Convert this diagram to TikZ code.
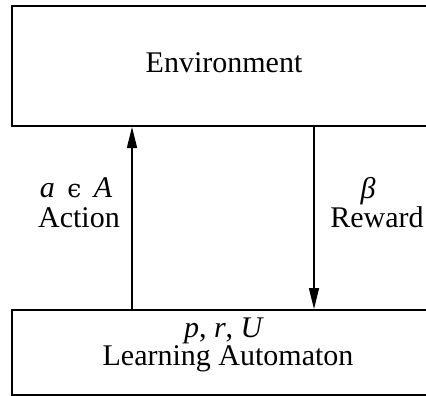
\documentclass[tikz,border=0pt]{standalone}
\usepackage{fontspec}
\setmainfont{Liberation Serif}
\newfontfamily\symfont{DejaVu Serif}
\usepackage{tikz}
\usetikzlibrary{arrows.meta}

\begin{document}
\begin{tikzpicture}[x=1pt,y=-1pt,
    block/.style={draw=black,line width=2pt,rectangle,minimum width=424pt,inner sep=0pt},
    label/.style={anchor=base,inner sep=0pt},
    flow/.style={line width=1.3pt,-{Triangle[length=21pt,width=10pt]}},
    font=\fontsize{30}{32}\selectfont]
      \clip (0,0) rectangle (426,396);
      \node[block,minimum height=120pt] (env) at (224,66) {};
      \node[label] (envname) at (224,73) {Environment};
      \node[block,minimum height=85pt] (la) at (224,352.5) {};
      \node[label] (lapar) at (224,337) {\textit{p}, \textit{r}, \textit{U}};
      \node[label] (laname) at (228,365) {Learning Automaton};
      %% action goes up, reward comes down
      \coordinate (actx) at (132,0);
      \coordinate (rewx) at (314,0);
      \draw[flow] (actx |- la.north) -- (actx |- env.south);
      \draw[flow] (rewx |- env.south) -- (rewx |- la.north);
      \node[label] (actsym) at (76,197) {\textit{a}\, {\symfont\fontsize{25}{25}\selectfont ϵ}\, \textit{A}};
      \node[label] (actname) at (79,227) {Action};
      \node[label] (rewsym) at (368,198) {\textit{β}};
      \node[label] (rewname) at (377,227) {Reward};
\end{tikzpicture}
\end{document}
